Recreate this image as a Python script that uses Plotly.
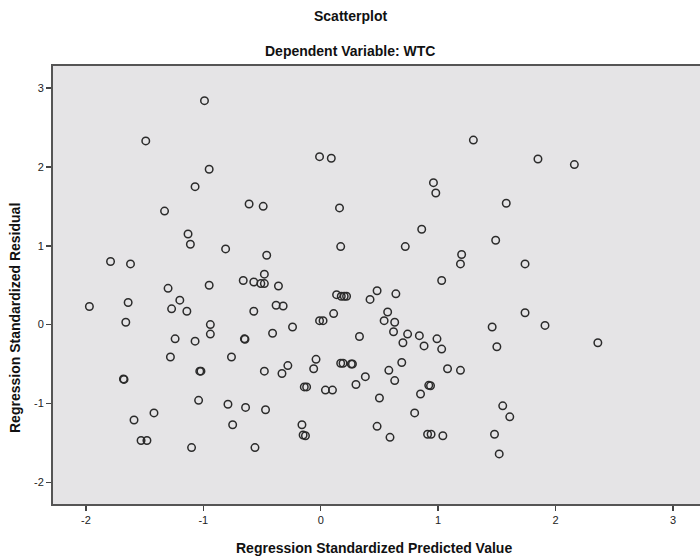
import plotly.graph_objects as go

predicted = [
    -0.99, -1.49, -0.95, -1.07, -1.33, -0.61, -0.49, -1.13, -1.11, -0.81,
    -0.46, -1.79, -1.62, -0.48, -0.66, -0.57, -0.51, -0.48, -1.30, -0.95,
    -0.01, 0.09, 1.30, 0.96, 0.98, 0.16, 0.86, 0.17, 0.72, 1.20,
    1.19, 1.03, -0.36, 0.48, 0.64, 1.85, 2.16, 1.58, 1.49, 1.74,
    0.42, 0.57, 1.74, 0.54, 0.63, 1.91, 1.46, 0.62, 0.33, 0.74,
    0.84, 0.99, 0.70, 0.88, 1.03, 2.36, 1.50, 0.27, 0.69, 0.58,
    1.08, 1.19, 0.38, 0.30, 0.63, 0.92, 0.935, 0.85, 0.50, 1.55,
    0.80, 1.61, 0.48, 1.48, 0.91, 0.94, 1.04, 0.59, 1.52,
    -1.97, -1.66, -1.64, -1.20, -1.27, -1.14, -0.94, -0.94, -1.24, -1.07,
    -1.28, -1.68, -1.675, -1.03, -1.02, -1.04, -1.42, -1.59, -1.53, -1.48,
    -1.10, -0.76, -0.79, -0.75, -0.64, -0.56, -0.47, -0.48, -0.65, -0.645,
    -0.57, -0.38, -0.32, -0.41, -0.24, -0.28, -0.33, -0.04, -0.06, -0.01,
    0.02, 0.11, 0.135, 0.175, 0.20, 0.22, 0.17, 0.19, 0.26, 0.04,
    0.10, -0.14, -0.12, -0.16, -0.15, -0.13,
]
residual = [
    2.84, 2.33, 1.97, 1.75, 1.44, 1.53, 1.50, 1.15, 1.02, 0.96,
    0.88, 0.80, 0.77, 0.64, 0.56, 0.54, 0.52, 0.52, 0.46, 0.50,
    2.13, 2.11, 2.34, 1.80, 1.67, 1.48, 1.21, 0.99, 0.99, 0.89,
    0.77, 0.56, 0.49, 0.43, 0.39, 2.10, 2.03, 1.54, 1.07, 0.77,
    0.32, 0.16, 0.15, 0.05, 0.03, -0.01, -0.03, -0.09, -0.15, -0.12,
    -0.14, -0.18, -0.23, -0.27, -0.31, -0.23, -0.28, -0.50, -0.48, -0.58,
    -0.56, -0.58, -0.66, -0.76, -0.71, -0.77, -0.775, -0.88, -0.93, -1.03,
    -1.12, -1.17, -1.29, -1.39, -1.39, -1.39, -1.41, -1.43, -1.64,
    0.23, 0.03, 0.28, 0.31, 0.20, 0.17, 0.00, -0.12, -0.18, -0.21,
    -0.41, -0.69, -0.695, -0.59, -0.59, -0.96, -1.12, -1.21, -1.47, -1.47,
    -1.56, -0.41, -1.01, -1.27, -1.05, -1.56, -1.08, -0.59, -0.18, -0.185,
    0.17, 0.245, 0.236, -0.11, -0.03, -0.52, -0.62, -0.44, -0.56, 0.05,
    0.05, 0.14, 0.38, 0.36, 0.36, 0.36, -0.49, -0.49, -0.50, -0.83,
    -0.83, -0.79, -0.79, -1.27, -1.40, -1.41,
]

x_ticks = [-2, -1, 0, 1, 2, 3]
y_ticks = [-2, -1, 0, 1, 2, 3]

title_text = "Scatterplot"
subtitle_text = "Dependent Variable: WTC"
x_title = "Regression Standardized Predicted Value"
y_title = "Regression Standardized Residual"

W, H = 700, 559
ML, MR, MT, MB = 53, 0, 66, 55
pw = W - ML - MR
ph = H - MT - MB


def px_x(px):
    return (px - ML) / pw


def px_y(py):
    return (H - MB - py) / ph


fig = go.Figure()
fig.add_trace(go.Scatter(
    x=predicted, y=residual, mode="markers",
    marker=dict(symbol="circle-open", size=7.5, color="#2b2b2b",
                line=dict(width=1.5, color="#2b2b2b")),
    hoverinfo="skip", showlegend=False,
))

font_family = "Liberation Sans, Arial, sans-serif"
title_font = dict(family=font_family, size=14, color="#111111")
fig.update_layout(
    width=W, height=H,
    margin=dict(l=ML, r=MR, t=MT, b=MB, autoexpand=False),
    paper_bgcolor="white",
    plot_bgcolor="#e5e4e6",
    font=dict(family=font_family, size=11, color="#222222"),
    showlegend=False,
    annotations=[
        dict(text="<b>" + title_text + "</b>", xref="paper", x=px_x(350), xanchor="center",
             yref="paper", y=px_y(16), yanchor="middle", showarrow=False, font=title_font),
        dict(text="<b>" + subtitle_text + "</b>", xref="paper", x=px_x(350), xanchor="center",
             yref="paper", y=px_y(51), yanchor="middle", showarrow=False, font=title_font),
        dict(text="<b>" + x_title + "</b>", xref="paper", x=px_x(374), xanchor="center",
             yref="paper", y=px_y(548), yanchor="middle", showarrow=False, font=title_font),
        dict(text="<b>" + y_title + "</b>", xref="paper", x=px_x(15), xanchor="center",
             yref="paper", y=px_y(318), yanchor="middle", showarrow=False, font=title_font,
             textangle=-90),
    ],
)

fig.update_xaxes(
    range=[-2.28, 3.23], tickvals=x_ticks, ticktext=[str(v) for v in x_ticks],
    showgrid=False, zeroline=False, automargin=False,
    showline=True, linecolor="#555555", linewidth=2, mirror=True,
    ticks="outside", ticklen=5, tickwidth=1.5, tickcolor="#444444",
)
fig.update_yaxes(
    range=[-2.275, 3.28], tickvals=y_ticks, ticktext=[str(v) for v in y_ticks],
    showgrid=False, zeroline=False, automargin=False,
    showline=True, linecolor="#555555", linewidth=2,
    ticks="outside", ticklen=5, tickwidth=1.5, tickcolor="#444444",
)

fig.write_html(
    "out.html",
    config={"displayModeBar": False, "staticPlot": True},
    post_script="document.body.style.margin='0';document.body.style.overflow='hidden';",
)
